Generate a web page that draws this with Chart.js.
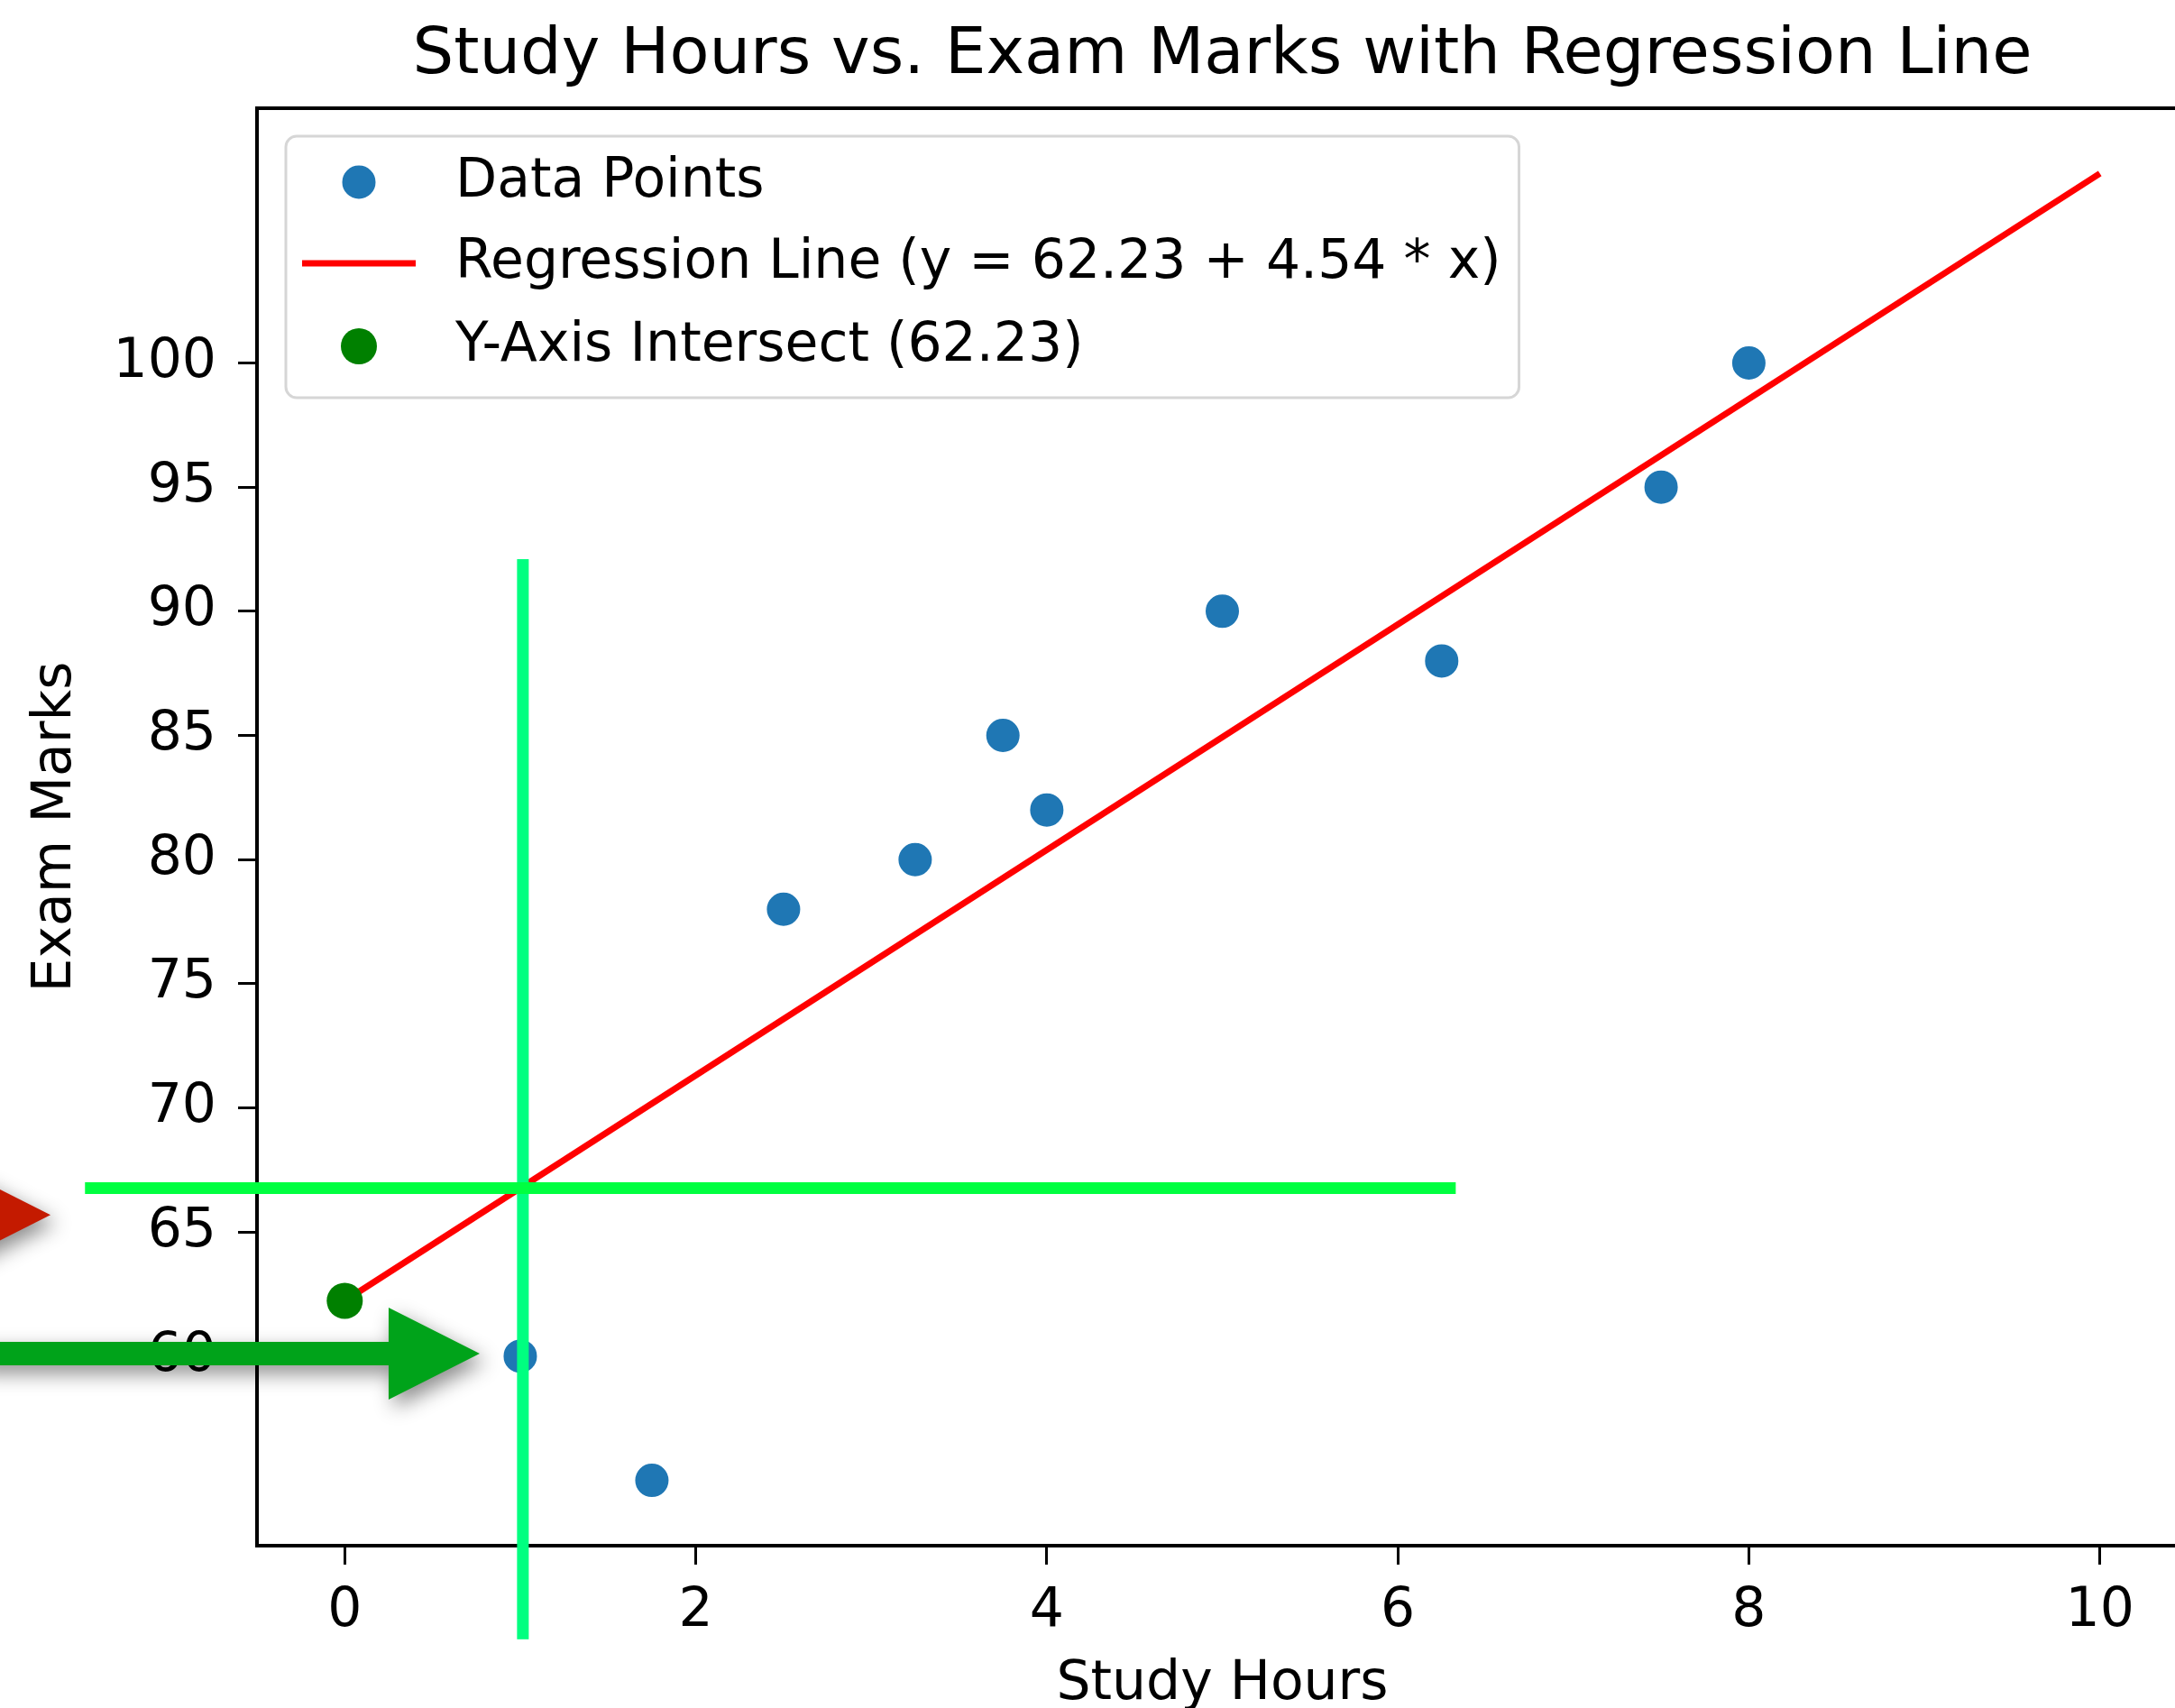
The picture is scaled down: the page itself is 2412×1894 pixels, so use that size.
<!DOCTYPE html>
<html>
<head>
<meta charset="utf-8">
<title>Study Hours vs. Exam Marks</title>
<script src="https://cdn.jsdelivr.net/npm/chart.js@4.4.1/dist/chart.umd.min.js"></script>
<style>
    html, body { margin: 0; padding: 0; background: #fff; overflow: hidden; }
    #wrap { position: relative; width: 2412px; height: 1894px; overflow: hidden; }
    #wrap canvas { position: absolute; left: 0; top: 0; }
</style>
</head>
<body>
<div id="wrap"><canvas id="chartStudy" width="2450" height="1894"></canvas></div>
<script>
// values
const studyHours = [1, 1.75, 2.5, 3.25, 3.75, 4, 5, 6.25, 7.5, 8];
const examMarks = [60, 55, 78, 80, 85, 82, 90, 88, 95, 100];
const regHours = [0, 10];
const regMarks = [62.23, 107.63];
const interceptHours = [0];
const interceptMarks = [62.23];
const xTicks = [0, 2, 4, 6, 8, 10];
const yTicks = [60, 65, 70, 75, 80, 85, 90, 95, 100];
const xRange = [-0.5, 10.5];
const yRange = [52.37, 110.26];
const legendLabels = ["Data Points", "Regression Line (y = 62.23 + 4.54 * x)", "Y-Axis Intersect (62.23)"];
const chartTitle = "Study Hours vs. Exam Marks with Regression Line";

// hand drawn marks on top of the plot (crosshair at x = 1)
const crossX = 1.015;
const crossY = 66.77;
const vLineY = [92.1, 48.6];
const hLineX = [-1.48, 6.33];

Chart.defaults.font.family = "'DejaVu Sans', sans-serif";
Chart.defaults.color = "#000";

const dotRadius = 20;

function toPoints(xs, ys) {
    return xs.map((v, i) => ({ x: v, y: ys[i] }));
}

function arrowHead(ctx, tipX, tipY, withShaft) {
    ctx.beginPath();
    if (withShaft) {
        ctx.moveTo(-30, tipY - 13);
        ctx.lineTo(tipX - 101, tipY - 13);
    } else {
        ctx.moveTo(tipX - 101, tipY - 13);
    }
    ctx.lineTo(tipX - 101, tipY - 51);
    ctx.lineTo(tipX, tipY);
    ctx.lineTo(tipX - 101, tipY + 51);
    ctx.lineTo(tipX - 101, tipY + 13);
    if (withShaft) ctx.lineTo(-30, tipY + 13);
    ctx.closePath();
    ctx.fill();
}

const overlay = {
    id: "overlay",
    beforeDraw(chart) {
        const ctx = chart.ctx;
        ctx.save();
        ctx.fillStyle = "#fff";
        ctx.fillRect(0, 0, chart.width, chart.height);
        ctx.restore();
    },
    afterDraw(chart) {
        const { ctx, chartArea: a, scales: { x, y } } = chart;
        ctx.save();

        // title
        ctx.fillStyle = "#000";
        ctx.font = "72px 'DejaVu Sans'";
        ctx.textAlign = "center";
        ctx.textBaseline = "alphabetic";
        ctx.fillText(chartTitle, (a.left + a.right) / 2, 81);

        // top + right spines
        ctx.strokeStyle = "#000";
        ctx.lineWidth = 4;
        ctx.beginPath();
        ctx.moveTo(a.left - 2, a.top);
        ctx.lineTo(a.right, a.top);
        ctx.lineTo(a.right, a.bottom);
        ctx.stroke();

        // legend
        ctx.font = "60px 'DejaVu Sans'";
        let maxW = 0;
        legendLabels.forEach(t => { maxW = Math.max(maxW, ctx.measureText(t).width); });
        const bx = a.left + 32, by = a.top + 31;
        const bw = 188 + maxW + 20, bh = 290;
        ctx.beginPath();
        ctx.roundRect(bx, by, bw, bh, 12);
        ctx.fillStyle = "rgba(255,255,255,0.8)";
        ctx.fill();
        ctx.strokeStyle = "#d6d6d6";
        ctx.lineWidth = 3;
        ctx.stroke();

        const rows = [by + 51, by + 141, by + 233];
        const mx = bx + 81;
        ctx.beginPath();
        ctx.arc(mx, rows[0], dotRadius, 0, Math.PI * 2);
        ctx.fillStyle = "#1f77b4";
        ctx.fill();
        ctx.strokeStyle = "#fff";
        ctx.lineWidth = 3;
        ctx.stroke();

        ctx.beginPath();
        ctx.moveTo(bx + 18, rows[1]);
        ctx.lineTo(bx + 144, rows[1]);
        ctx.strokeStyle = "#ff0000";
        ctx.lineWidth = 7;
        ctx.stroke();

        ctx.beginPath();
        ctx.arc(mx, rows[2], dotRadius, 0, Math.PI * 2);
        ctx.fillStyle = "#008000";
        ctx.fill();

        ctx.fillStyle = "#000";
        ctx.textAlign = "left";
        ctx.textBaseline = "middle";
        legendLabels.forEach((t, i) => ctx.fillText(t, bx + 188, rows[i]));

        // green crosshair
        const vx = x.getPixelForValue(crossX);
        const vTop = y.getPixelForValue(vLineY[0]);
        const vBot = y.getPixelForValue(vLineY[1]);
        ctx.fillStyle = "#00ff80";
        ctx.fillRect(vx - 6.5, vTop, 13, vBot - vTop);
        const hy = y.getPixelForValue(crossY);
        const hx0 = x.getPixelForValue(hLineX[0]);
        const hx1 = x.getPixelForValue(hLineX[1]);
        ctx.fillStyle = "#00ff40";
        ctx.fillRect(hx0, hy - 6.5, hx1 - hx0, 13);

        // arrows with drop shadow
        ctx.shadowColor = "rgba(0,0,0,0.45)";
        ctx.shadowBlur = 22;
        ctx.shadowOffsetX = 6;
        ctx.shadowOffsetY = 9;
        ctx.fillStyle = "#c41a00";
        arrowHead(ctx, 56, y.getPixelForValue(65) - 19, false);
        ctx.fillStyle = "#00a31a";
        arrowHead(ctx, x.getPixelForValue(1) - 45, y.getPixelForValue(60) - 3, true);

        ctx.restore();
    }
};

const axisFont = { size: 60 };

new Chart(document.getElementById("chartStudy"), {
    type: "scatter",
    data: {
        datasets: [{
            label: legendLabels[2],
            data: toPoints(interceptHours, interceptMarks),
            backgroundColor: "#008000",
            borderColor: "#008000",
            borderWidth: 0,
            pointRadius: dotRadius,
            order: 0
        }, {
            label: legendLabels[1],
            data: toPoints(regHours, regMarks),
            showLine: true,
            borderColor: "#ff0000",
            borderWidth: 7,
            pointRadius: 0,
            order: 1
        }, {
            label: legendLabels[0],
            data: toPoints(studyHours, examMarks),
            backgroundColor: "#1f77b4",
            borderColor: "#ffffff",
            borderWidth: 3,
            pointRadius: dotRadius,
            order: 2
        }]
    },
    options: {
        responsive: false,
        animation: false,
        events: [],
        devicePixelRatio: 1,
        layout: { padding: { left: 0, top: 120, right: 24, bottom: 0 } },
        plugins: {
            legend: { display: false },
            title: { display: false },
            tooltip: { enabled: false }
        },
        scales: {
            x: {
                type: "linear",
                min: xRange[0],
                max: xRange[1],
                afterBuildTicks: s => { s.ticks = xTicks.map(v => ({ value: v })); },
                afterFit: s => { s.height = 180; },
                grid: { drawOnChartArea: false, drawTicks: true, tickLength: 21, tickWidth: 3, tickColor: "#000" },
                border: { display: true, color: "#000", width: 4 },
                ticks: { color: "#000", font: axisFont, padding: 16, maxRotation: 0, autoSkip: false },
                title: { display: true, text: "Study Hours", color: "#000", font: axisFont, padding: { top: 0, bottom: -10 } }
            },
            y: {
                type: "linear",
                min: yRange[0],
                max: yRange[1],
                afterBuildTicks: s => { s.ticks = yTicks.map(v => ({ value: v })); },
                afterFit: s => { s.width = 285; },
                grid: { drawOnChartArea: false, drawTicks: true, tickLength: 21, tickWidth: 3, tickColor: "#000" },
                border: { display: true, color: "#000", width: 4 },
                ticks: { color: "#000", font: axisFont, padding: 24, autoSkip: false },
                title: { display: true, text: "Exam Marks", color: "#000", font: axisFont, padding: { top: 26, bottom: 0 } }
            }
        }
    },
    plugins: [overlay]
});
</script>
</body>
</html>
